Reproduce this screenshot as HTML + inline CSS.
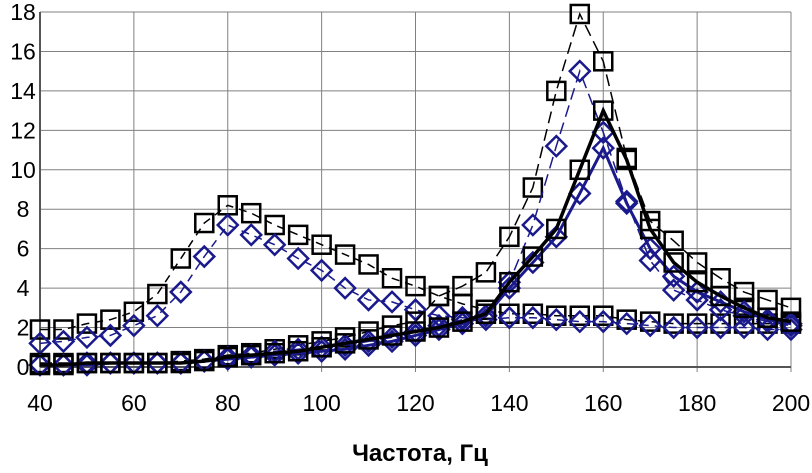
<!DOCTYPE html>
<html><head><meta charset="utf-8"><style>
body{margin:0;background:#fff;width:812px;height:468px;overflow:hidden}
text{font-family:"Liberation Sans",Arial,sans-serif}
</style></head><body>
<svg id="chart" width="812" height="468" xmlns="http://www.w3.org/2000/svg"></svg>
<script>
const xs=[40,45,50,55,60,65,70,75,80,85,90,95,100,105,110,115,120,125,130,135,140,145,150,155,160,165,170,175,180,185,190,195,200];
const seriesA=[1.9,1.9,2.2,2.4,2.8,3.7,5.5,7.3,8.2,7.8,7.2,6.7,6.2,5.7,5.2,4.5,4.1,3.6,3.2,2.9,2.7,2.7,2.6,2.6,2.6,2.4,2.3,2.2,2.2,2.2,2.2,2.2,2.2];
const seriesB=[1.2,1.3,1.5,1.6,2.1,2.6,3.8,5.6,7.2,6.7,6.2,5.5,4.9,4.0,3.4,3.3,2.9,2.6,2.5,2.4,2.5,2.5,2.4,2.3,2.3,2.2,2.1,2.0,2.0,2.0,2.0,1.9,1.9];
const seriesC=[0.2,0.2,0.2,0.2,0.2,0.2,0.3,0.4,0.6,0.7,0.9,1.1,1.3,1.5,1.8,2.1,2.3,3.6,4.1,4.8,6.6,9.1,14.0,17.9,15.5,10.6,7.4,6.4,5.3,4.5,3.8,3.4,3.0];
const seriesD=[0.1,0.1,0.2,0.2,0.2,0.2,0.2,0.3,0.5,0.6,0.7,0.8,1.0,1.2,1.4,1.6,1.8,2.0,2.3,2.7,4.3,5.6,7.0,10.0,13.0,10.5,7.0,5.3,4.3,3.6,3.0,2.5,2.3];
const seriesE=[0.1,0.1,0.1,0.2,0.2,0.2,0.2,0.3,0.4,0.5,0.6,0.7,0.8,0.9,1.1,1.3,1.6,1.9,2.2,2.6,4.0,5.3,6.6,8.8,11.1,8.3,6.0,4.6,3.8,3.3,2.8,2.4,2.2];
const seriesF=[0.1,0.1,0.2,0.2,0.2,0.2,0.2,0.3,0.5,0.6,0.8,0.9,1.0,1.1,1.3,1.5,1.8,2.1,2.4,2.6,4.3,7.2,11.2,15.0,11.9,8.4,5.4,3.9,3.4,2.9,2.6,2.3,2.1];
const xTicks=[40,60,80,100,120,140,160,180,200];
const yTicks=[0,2,4,6,8,10,12,14,16,18];
const NS="http://www.w3.org/2000/svg";
const svg=document.getElementById('chart');
const X=v=>40+(v-40)*(791-40)/160;
const Y=v=>367-v*(367-12)/18;
function el(t,a,p){const e=document.createElementNS(NS,t);for(const k in a)e.setAttribute(k,a[k]);(p||svg).appendChild(e);return e;}
const grid=el('g',{});


yTicks.forEach(t=>{el('line',{x1:40,x2:791,y1:Y(t),y2:Y(t),stroke:'#808080','stroke-width':1},grid);
 const tx=el('text',{x:23,y:Y(t)+8,'text-anchor':'middle','font-size':23,fill:'#000'});tx.textContent=t;
 
 });
xTicks.forEach(t=>{el('line',{x1:X(t),x2:X(t),y1:12,y2:372,stroke:'#808080','stroke-width':1},grid);
 const tx=el('text',{x:X(t),y:411,'text-anchor':'middle','font-size':23,fill:'#000'});tx.textContent=t;
 
 });
el('line',{x1:40,x2:40,y1:12,y2:367,stroke:'#555','stroke-width':2},grid);
el('line',{x1:40,x2:791,y1:367,y2:367,stroke:'#555','stroke-width':2},grid);
function series(name,data,color,dash,width,marker){
 const g=el('g',{});
 
 
 el('polyline',{points:data.map((v,i)=>X(xs[i])+','+Y(v)).join(' '),fill:'none',stroke:color,'stroke-width':width,'stroke-dasharray':dash},g);
 data.forEach((v,i)=>{const cx=X(xs[i]),cy=Y(v);let m;
  if(marker==='sq')m=el('rect',{x:cx-9,y:cy-9,width:18,height:18,fill:'none',stroke:'#000','stroke-width':2.5},g);
  else m=el('polygon',{points:`${cx},${cy-10} ${cx+10},${cy} ${cx},${cy+10} ${cx-10},${cy}`,fill:'none',stroke:'#1a1a8c','stroke-width':2.5},g);
  
  });
}
series('series-a',seriesA,'#000','8 6',1.5,'sq');
series('series-b',seriesB,'#1a1a8c','8 6',1.5,'dia');
series('series-c',seriesC,'#000','12 6',1.5,'sq');
series('series-f',seriesF,'#1a1a8c','12 6',1.5,'dia');
series('series-e',seriesE,'#1a1a8c','none',3,'dia');
series('series-d',seriesD,'#000','none',3.5,'sq');
const t=el('text',{x:420,y:461,'text-anchor':'middle','font-size':24,'font-weight':'bold',fill:'#000'});
t.textContent='Частота, Гц';


</script>
</body></html>
